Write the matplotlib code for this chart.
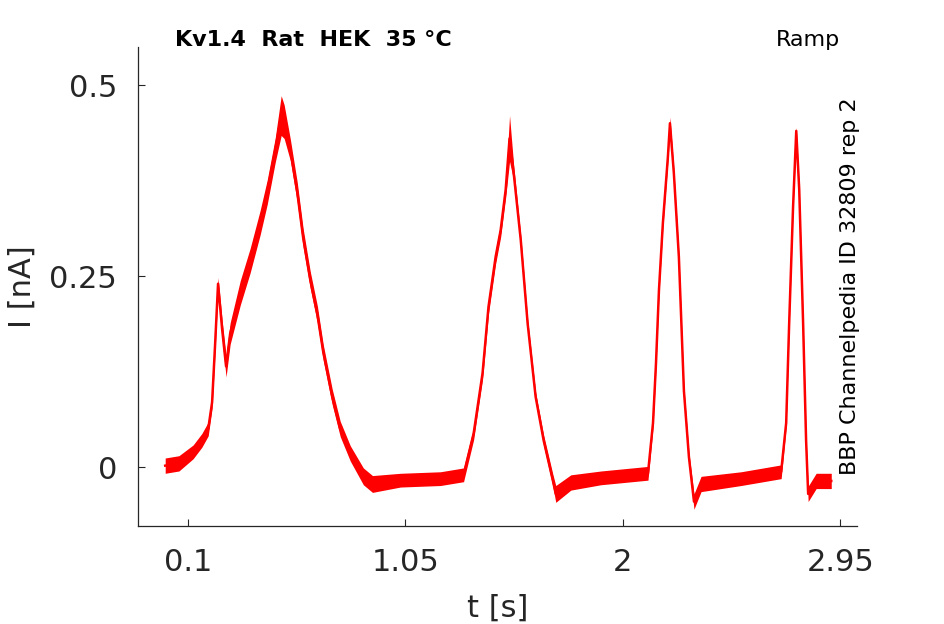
import numpy as np
import matplotlib.pyplot as plt

# trace: time [s], mean current [nA], noise half-width [nA]
t_s = [0.000, 0.060, 0.122, 0.160, 0.188, 0.205, 0.218, 0.231, 0.249, 0.266,
       0.284, 0.328, 0.371, 0.415, 0.446, 0.481, 0.507, 0.520, 0.547, 0.577,
       0.603, 0.634, 0.665, 0.691, 0.730, 0.765, 0.809, 0.866, 0.906, 1.028,
       1.203, 1.304, 1.348, 1.387, 1.413, 1.444, 1.466, 1.488, 1.505, 1.523,
       1.554, 1.584, 1.619, 1.654, 1.694, 1.707, 1.773, 1.904, 2.110, 2.132,
       2.145, 2.158, 2.175, 2.197, 2.206, 2.223, 2.245, 2.267, 2.289, 2.311,
       2.342, 2.517, 2.692, 2.714, 2.727, 2.744, 2.758, 2.771, 2.788, 2.801,
       2.810, 2.845, 2.911]
i_nA = [0.002, 0.005, 0.020, 0.035, 0.050, 0.085, 0.160, 0.240, 0.180, 0.132,
        0.175, 0.228, 0.270, 0.320, 0.360, 0.415, 0.460, 0.452, 0.415, 0.360,
        0.300, 0.245, 0.200, 0.150, 0.092, 0.050, 0.018, -0.012, -0.022, -0.017,
        -0.015, -0.010, 0.044, 0.123, 0.210, 0.275, 0.310, 0.363, 0.430, 0.385,
        0.297, 0.188, 0.092, 0.035, -0.017, -0.035, -0.020, -0.014, -0.008, 0.058,
        0.136, 0.232, 0.319, 0.406, 0.450, 0.385, 0.275, 0.100, 0.013, -0.045,
        -0.022, -0.015, -0.006, 0.058, 0.188, 0.340, 0.440, 0.363, 0.188, 0.035,
        -0.035, -0.018, -0.018]
noise = [0.010, 0.010, 0.009, 0.009, 0.009, 0.008, 0.008, 0.008, 0.012, 0.014,
         0.014, 0.016, 0.016, 0.016, 0.016, 0.016, 0.026, 0.022, 0.014, 0.013,
         0.012, 0.011, 0.011, 0.010, 0.010, 0.010, 0.010, 0.011, 0.011, 0.009,
         0.009, 0.009, 0.008, 0.008, 0.009, 0.009, 0.009, 0.010, 0.030, 0.010,
         0.006, 0.006, 0.006, 0.007, 0.008, 0.011, 0.010, 0.009, 0.009, 0.006,
         0.005, 0.005, 0.005, 0.006, 0.008, 0.005, 0.005, 0.005, 0.006, 0.010,
         0.010, 0.009, 0.009, 0.005, 0.004, 0.004, 0.005, 0.004, 0.004, 0.005,
         0.010, 0.010, 0.010]

xticks = [0.1, 1.05, 2, 2.95]
xtick_labels = ['0.1', '1.05', '2', '2.95']
yticks = [0, 0.25, 0.5]
ytick_labels = ['0', '0.25', '0.5']

plt.rcParams['font.family'] = ['DejaVu Sans']
dark = '#262626'

fig = plt.figure(figsize=(9.45, 6.24), dpi=100)
ax = fig.add_axes([0.146, 0.157, 0.761, 0.768])

t = np.array(t_s)
i = np.array(i_nA)
w = np.array(noise)
ax.fill_between(t, i - w, i + w, color='#ff0000', lw=0)
ax.plot(t, i, color='#ff0000', lw=1.8)

ax.set_xlim(-0.119, 3.024)
ax.set_ylim(-0.077, 0.55)
ax.set_xticks(xticks)
ax.set_xticklabels(xtick_labels)
ax.set_yticks(yticks)
ax.set_yticklabels(ytick_labels)
ax.tick_params(direction='in', length=5, width=0.8, colors=dark,
               labelsize=22, pad=15)
ax.tick_params(axis='x', pad=16)
for s in ['top', 'right']:
    ax.spines[s].set_visible(False)
for s in ['left', 'bottom']:
    ax.spines[s].set_color(dark)
    ax.spines[s].set_linewidth(0.9)

ax.set_xlabel('t [s]', fontsize=22, color=dark, labelpad=12)
ax.set_ylabel('I [nA]', fontsize=22, color=dark, labelpad=9)

fig.text(0.185, 0.936, 'Kv1.4  Rat  HEK  35 °C', fontsize=16, fontweight='bold',
         ha='left', va='center', color='black')
fig.text(0.889, 0.936, 'Ramp', fontsize=16, ha='right', va='center', color='black')
fig.text(0.899, 0.542, 'BBP Channelpedia ID 32809 rep 2', fontsize=16,
         rotation=90, ha='center', va='center', color='black')

fig.savefig('out.png', dpi=100)
